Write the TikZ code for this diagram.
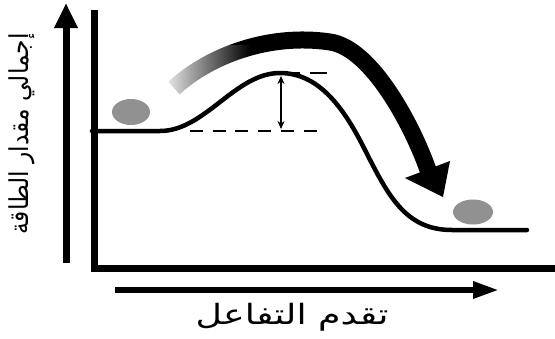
\documentclass[tikz,border=0pt]{standalone}
\usepackage{fontspec}
\newfontfamily\arabicfont[Script=Arabic]{DejaVu Sans}
\TeXXeTstate=1
\usetikzlibrary{arrows.meta,fadings}
\begin{document}
\begin{tikzpicture}[x=1pt,y=-1pt,
  frameline/.style={line width=7pt},
  axisarrow/.style={line width=7pt,-{Triangle[length=25pt,width=22pt]}},
  energyline/.style={line width=4.5pt,line join=round},
  levelline/.style={line width=2.5pt,dash pattern=on 13pt off 9.7pt},
  gapline/.style={line width=1.8pt,{Stealth[length=8pt,width=7pt]}-{Stealth[length=8pt,width=7pt]}},
  ball/.style={fill=black!43,draw=none},
  flowband/.style={line width=17pt},
  labeltext/.style={font=\arabicfont,inner sep=0pt}
]
\useasboundingbox (0,0) rectangle (555,338);

% axes
\coordinate (ybot) at (66,263);
\coordinate (ytop) at (66,3);
\draw[axisarrow] (ybot) -- (ytop);
\coordinate (xleft) at (115,290);
\coordinate (xright) at (499,290);
\draw[axisarrow,line width=6pt,-{Triangle[length=26pt,width=16pt]}] (xleft) -- (xright);

\coordinate (ftop) at (94,10);
\coordinate (fcorner) at (94,268);
\coordinate (fright) at (555,268);
\draw[frameline,line join=miter] (ftop) -- (fcorner) -- (fright);

% big curved arrow
\coordinate (bandstart) at (174,88);
\coordinate (bandmid) at (330,42);
\coordinate (bandend) at (428,170);
\draw[flowband] (bandstart) .. controls (210,55) and (270,33) .. (bandmid)
  .. controls (372,48) and (413,127) .. (bandend);
\coordinate (headl) at (405,178);
\coordinate (headr) at (450,161);
\coordinate (headtip) at (443,197);
\fill (headl) -- (headr) -- (headtip) -- cycle;
\fill[white,path fading=east] (158,45) rectangle (250,102);

% levels
\coordinate (lowa) at (190,131);
\coordinate (lowb) at (318,131);
\draw[levelline] (lowa) -- (lowb);
\coordinate (higha) at (283,73);
\coordinate (highb) at (327,73);
\draw[levelline,dash pattern=on 17pt off 10pt] (higha) -- (highb);

% energy curve
\coordinate (e0) at (92,131);
\coordinate (e1) at (160,131);
\coordinate (epeak) at (280,73);
\coordinate (e2) at (365,150);
\coordinate (e3) at (452,230);
\coordinate (e4) at (527,230);
\draw[energyline,line cap=round] (e0) -- (e1) .. controls (205,131) and (235,73) .. (epeak)
  .. controls (320,73) and (345,110) .. (e2)
  .. controls (388,195) and (405,230) .. (e3) -- (e4);

% activation gap
\coordinate (gtop) at (281,76);
\coordinate (gbot) at (281,129);
\draw[gapline] (gtop) -- (gbot);

% balls
\fill[ball] (131,112) ellipse [x radius=19pt,y radius=13pt];
\fill[ball] (473,212) ellipse [x radius=20pt,y radius=12.5pt];

% labels
\node[labeltext] (xlabel) at (292,317) {\fontsize{28}{32}\selectfont\scalebox{1.3}[1]{\beginR تقدم التفاعل\endR}};
\node[labeltext,rotate=90] (ylabel) at (22,134) {\fontsize{26}{30}\selectfont\scalebox{0.9}[1]{\beginR إجمالي مقدار الطاقة\endR}};
\end{tikzpicture}
\end{document}
